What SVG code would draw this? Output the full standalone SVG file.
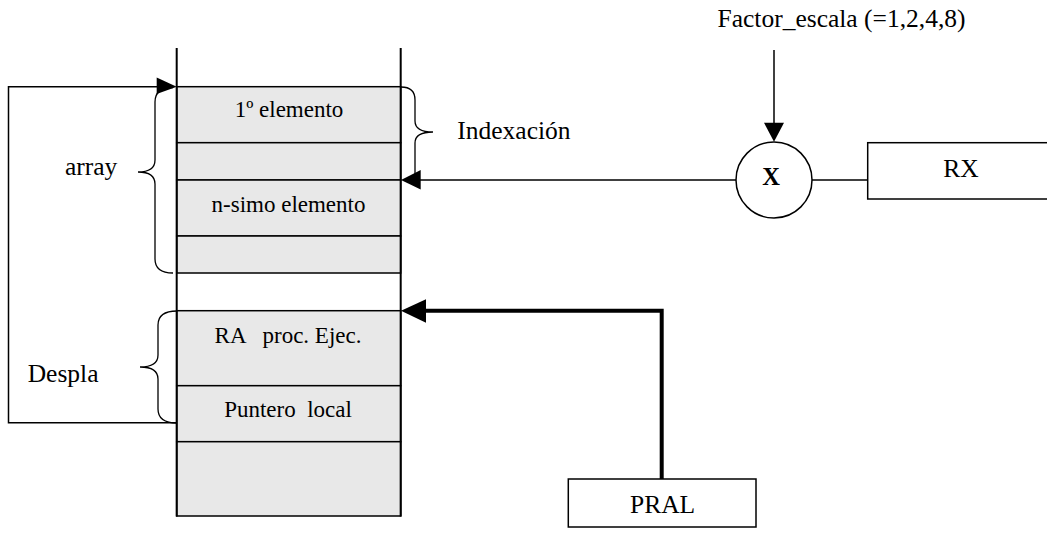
<svg xmlns="http://www.w3.org/2000/svg" width="1047" height="536" viewBox="0 0 1047 536">
<style>
text{font-family:"Liberation Serif","Times New Roman",serif;fill:#000;white-space:pre}
.in{font-size:23px;text-anchor:middle}
.lab{font-size:25.5px}
.ln{fill:none;stroke:#000;stroke-width:1.5}
.cell{fill:#e8e8e8;stroke:#000;stroke-width:1.5}
.box{fill:#fff;stroke:#000;stroke-width:1.5}
.head{fill:#000;stroke:none}
.brace{fill:none;stroke:#000;stroke-width:1.3}
</style>
<g id="stack">
<rect class="cell" x="176.7" y="86.7" width="224" height="56"/>
<rect class="cell" x="176.7" y="142.7" width="224" height="37.3"/>
<rect class="cell" x="176.7" y="180" width="224" height="56"/>
<rect class="cell" x="176.7" y="236" width="224" height="37"/>
<line class="ln" x1="176.7" y1="310.7" x2="400.7" y2="310.7"/>
<rect class="cell" x="176.7" y="310.7" width="224" height="75"/>
<rect class="cell" x="176.7" y="385.7" width="224" height="56"/>
<rect class="cell" x="176.7" y="441.7" width="224" height="74.3"/>
<line class="ln" x1="176.7" y1="48" x2="176.7" y2="516.5" style="stroke-width:2"/>
<line class="ln" x1="400.7" y1="48" x2="400.7" y2="516.5" style="stroke-width:2"/>
<text class="in" x="289" y="117.3">1º elemento</text>
<text class="in" x="288.5" y="211.7">n-simo elemento</text>
<text class="in" x="288" y="343.3">RA   proc. Ejec.</text>
<text class="in" x="288" y="416.7">Puntero  local</text>
</g>
<g id="array-brace">
<path class="brace" d="M173,87.5 Q155,87.5 155,102 L155,160 Q155,172 138,172 Q155,172 155,184 L155,259 Q155,273 173,273"/>
<text class="lab" x="65" y="175">array</text>
</g>
<g id="despla-brace">
<path class="brace" d="M177,311 Q158,311 158,325 L158,355 Q158,367 140,367 Q158,367 158,379 L158,409 Q158,423 177,423"/>
<text class="lab" x="27.7" y="381.7">Despla</text>
</g>
<g id="index-brace">
<path class="brace" d="M401,87 Q415,87 415,100 L415,121 Q415,132 433,132 Q415,132 415,143 L415,178"/>
<text class="lab" x="457.3" y="139.3">Indexación</text>
</g>
<g id="factor">
<text class="lab" x="717.5" y="26.7">Factor_escala (=1,2,4,8)</text>
</g>
<g id="mult">
<circle class="box" cx="774" cy="180" r="38"/>
<text x="771" y="185" style="font-size:24.5px;font-weight:bold;text-anchor:middle">X</text>
</g>
<g id="rx">
<rect class="box" x="867.7" y="142.7" width="190" height="56.3"/>
<text class="lab" x="943.3" y="176.7">RX</text>
</g>
<g id="pral">
<rect class="box" x="568.3" y="479" width="187.7" height="48"/>
<text class="lab" x="630" y="512.7">PRAL</text>
</g>
<g id="connectors">
<polyline class="ln" points="176.7,422.7 8.5,422.7 8.5,86.7 158,86.7"/>
<polygon class="head" points="176.7,86.7 156.7,77.5 156.7,94"/>
<line class="ln" x1="736" y1="180" x2="418" y2="180"/>
<polygon class="head" points="401,180 420.7,170 420.7,189.5"/>
<line class="ln" x1="812" y1="180" x2="867.7" y2="180"/>
<line class="ln" x1="774" y1="50" x2="774" y2="124"/>
<polygon class="head" points="774,141.7 764,122.7 784,122.7"/>
<polyline points="661.7,479 661.7,310.7 424,310.7" style="fill:none;stroke:#000;stroke-width:4"/>
<polygon class="head" points="401,310.7 426,299.3 426,322.7"/>
</g>
</svg>
